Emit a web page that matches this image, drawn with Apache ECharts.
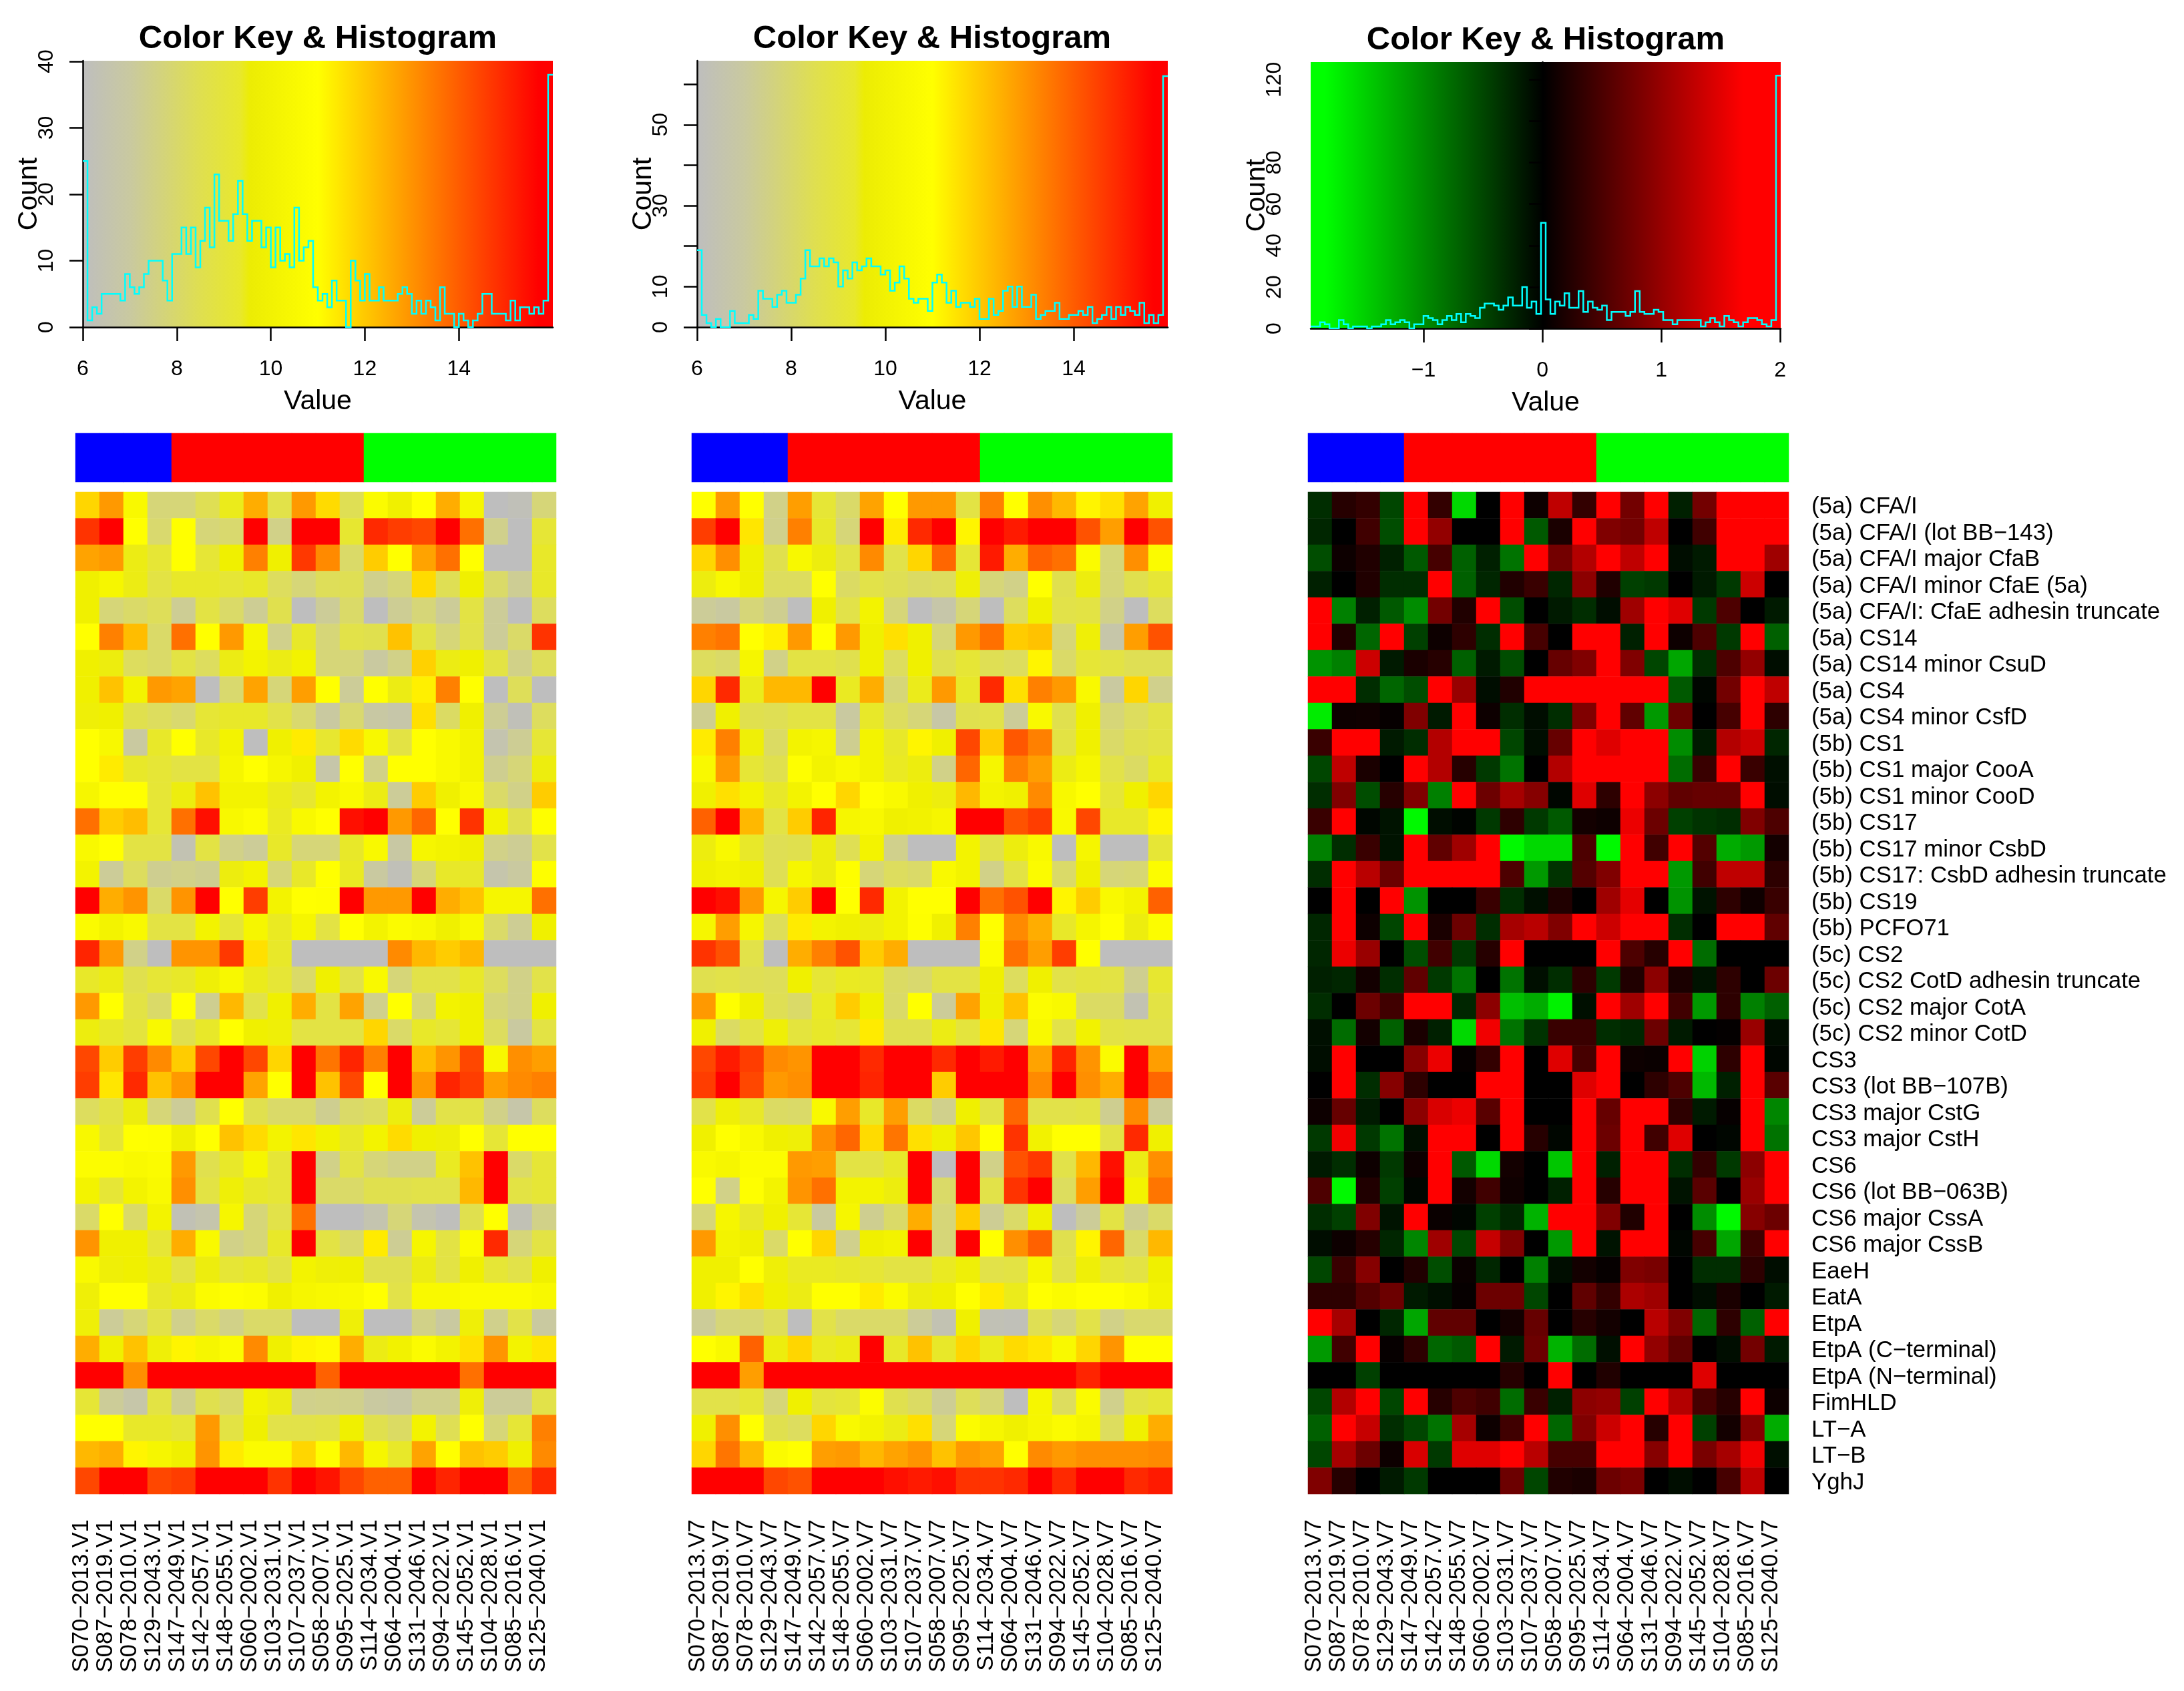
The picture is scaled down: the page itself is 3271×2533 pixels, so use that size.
<!DOCTYPE html>
<html>
<head>
<meta charset="utf-8">
<style>html,body{margin:0;padding:0;background:#fff}#c{width:3271px;height:2533px}</style>
<script src="https://cdn.jsdelivr.net/npm/echarts@6/dist/echarts.min.js"></script>
</head>
<body>
<div id="c"></div>
<script>
const antigens = ["(5a) CFA/I","(5a) CFA/I (lot BB−143)","(5a) CFA/I major CfaB","(5a) CFA/I minor CfaE (5a)","(5a) CFA/I: CfaE adhesin truncate","(5a) CS14","(5a) CS14 minor CsuD","(5a) CS4","(5a) CS4 minor CsfD","(5b) CS1","(5b) CS1 major CooA","(5b) CS1 minor CooD","(5b) CS17","(5b) CS17 minor CsbD","(5b) CS17: CsbD adhesin truncate","(5b) CS19","(5b) PCFO71","(5c) CS2","(5c) CS2 CotD adhesin truncate","(5c) CS2 major CotA","(5c) CS2 minor CotD","CS3","CS3 (lot BB−107B)","CS3 major CstG","CS3 major CstH","CS6","CS6 (lot BB−063B)","CS6 major CssA","CS6 major CssB","EaeH","EatA","EtpA","EtpA (C−terminal)","EtpA (N−terminal)","FimHLD","LT−A","LT−B","YghJ"];
const subjects = ["S070−2013","S087−2019","S078−2010","S129−2043","S147−2049","S142−2057","S148−2055","S060−2002","S103−2031","S107−2037","S058−2007","S095−2025","S114−2034","S064−2004","S131−2046","S094−2022","S145−2052","S104−2028","S085−2016","S125−2040"];
const sampleGroups = ["blue","blue","blue","blue","red","red","red","red","red","red","red","red","green","green","green","green","green","green","green","green"];

const histV1 = [25,1,3,2,5,5,5,5,4,8,6,5,6,8,10,10,10,7,4,11,11,15,11,15,9,13,18,12,23,16,16,13,17,22,17,13,16,16,12,15,9,15,10,11,9,18,10,12,13,6,4,5,3,7,4,4,0,10,7,4,8,4,4,6,4,4,4,5,6,5,2,4,2,4,3,1,6,2,2,0,2,1,0,1,2,5,5,2,2,2,1,4,1,3,3,2,3,2,4,38];
const histV7 = [19,3,1,0,2,0,0,4,1,1,1,3,2,9,7,7,5,8,9,6,6,8,12,19,15,15,17,15,17,16,10,14,12,16,14,15,17,15,15,13,14,9,11,15,12,7,6,7,7,4,11,13,11,6,9,5,6,6,5,7,2,2,7,3,4,9,10,5,10,5,5,8,2,3,4,4,6,2,2,3,3,4,3,5,1,2,3,5,2,5,3,5,4,3,6,1,3,1,3,62];
const histRatio = [1,1,3,2,0,0,4,2,0,1,1,1,0,1,1,2,4,2,3,4,3,0,2,2,6,5,4,2,4,6,4,7,3,7,6,5,10,12,12,11,9,11,15,11,11,20,10,13,7,51,14,7,13,11,17,10,10,18,8,13,10,9,11,4,8,8,8,6,8,18,8,7,7,9,8,4,4,2,4,4,4,4,4,1,3,5,3,1,6,4,3,1,3,5,5,4,2,1,4,122];

const cellsV1 = [
[11.8,13,10.6,8,8,8.7,9.6,12.6,8.9,13,11.7,8.7,10.7,10,11,12.6,10.4,6,6.2,8],
[15,16,11,8.2,11,8,8.2,16,7.6,16,16,9.3,15.2,14.8,14.6,16,13.8,7.5,6,9.2],
[12.8,13,9.7,9.2,11,9.2,10,13.5,10,14.9,13.3,8.3,12,11,12.8,13.8,11,6,6,9.4],
[10,10.4,9.7,9,9.4,9.4,9.2,9.4,8.5,8,8.6,8.7,7.5,8,11.7,8.7,10,8.3,7.3,9.4],
[10,8,8.3,8.6,7.3,9,8.3,7.3,8.8,6,7.2,8.3,6,7.3,8,7.2,9,7.2,6,8.5],
[11,13.5,12.3,8.3,13.8,11,13,10.4,7.5,9.4,8,8.9,8.8,12.2,9,8,8.9,7.2,8.3,15],
[10,9.8,8.5,8.3,9,8.5,9.7,10.2,9.7,10.2,8,8,7,7.6,11.9,9.7,10,9,7.6,8.6],
[10,12.2,10.2,13,12.8,6,8.2,12.8,8,12.9,11,7.2,11,9.7,11.3,13.5,11,6,8.6,6],
[9.9,10,8.8,8.5,8.2,9.2,9.4,9.4,8.9,8.2,7,8.2,6.9,6.7,11.6,8.4,10,7.3,6.2,8.5],
[11,10.5,7,9.4,11,9.4,10.2,6,10,11.4,9.3,11.7,10.5,9,11,10.6,10.2,6.5,7.3,9.2],
[11,11.4,9.4,9.2,9,9,10.4,11,10.4,10,6.7,11,7.6,11,11,10.6,10.2,7.4,8,9.8],
[10.4,11,11,9.2,9.8,12.2,10.2,10.2,9.6,9.3,10.2,10.6,9.7,7.2,12,10,10.6,8.3,7.6,12],
[13.8,12,12.3,9.2,13.8,15.7,10.5,10.8,9.5,10.6,11,15.7,16,13,14,11,15,10.2,8.8,10.9],
[10.6,11,9,9,6.4,9,7.6,7.2,9.4,8,8,9.4,10.6,6.9,10.4,10.2,10,7.6,7.3,8.9],
[10.2,7.2,8.5,7.4,7.6,7.4,9.8,10.2,8,9.4,11,9.5,7,6.2,8,9.4,9.4,6.6,7,10.9],
[16,12.6,13.1,8.3,13.1,16,11,14.8,10.2,11,10.9,16,13,13,16,12.6,12.2,10.4,10.4,13.8],
[10.7,10.2,10.6,9,9,10.2,9.2,10.4,9.5,10.4,9,11,10.2,10.7,10.5,10,10.5,8.3,7.3,10],
[15.3,13,7.6,6,13.1,13.1,14.9,11.6,9.4,6,6,6,6,13.3,12.4,12,12.4,6,6,6],
[9.4,9.7,8.8,9.2,9.4,9.9,10.5,9.6,9.2,8.3,10,8.9,10.6,8,8.9,8.9,9.4,8.5,7.6,8.9],
[13,11,9,8.3,11,7.4,12.4,8.9,10,12.6,9,12.8,7.5,11,8,10.2,10,8,7.6,10],
[9.8,9.4,9.1,10.6,8.8,9.4,11,10,9.9,9,9,9,11.8,8.3,9.4,9.2,10,8.5,7,9],
[14.6,12,14.8,13.3,12,14.6,16,14.6,11.8,16,13.7,15.3,13.5,16,12.3,13.1,14.6,10.5,13.2,12.9],
[14.8,11.5,15.2,12.2,13,16,16,12.8,11,16,12.2,14.6,11,16,13,15.3,14.8,12.9,13.3,13.5],
[8.5,9,9.8,8,7.2,8.8,11,8.8,8.3,8.3,7.4,8.3,8.5,9.8,7.2,8.9,9,7.6,6.7,8.5],
[10.5,9.2,11,10.9,10,11,12.2,11.7,10.2,11.5,10.1,9.4,10.2,11.7,10,9.9,11,9.2,11,11],
[10.8,10.8,10.6,10.7,13,8.8,9.4,10.4,9.2,16,7.6,9,8,7.6,7.6,9.5,12.2,16,8.3,9.2],
[10.2,9.2,10.2,10.6,13.2,9,9.9,9.4,9.2,16,8.3,8.3,8.8,8.8,8.9,8.9,12.4,16,9,9.2],
[8.3,11,8.3,10.2,6.3,6.6,10.4,8,8.9,13.8,6,6,6.5,8,6.5,6.1,8.8,11,6.3,7.6],
[13.1,10,10,9.2,12.6,10.6,7.6,8,9.4,16,9,8.3,11.4,7.3,10.4,9,10.7,15.2,8,9],
[10.6,9.9,10,9.7,9,9.8,9.2,9.4,9,10.2,9.9,10,8.8,8.8,9.7,9,10,9.2,8.9,10],
[9.9,11,11,9.4,9.7,10.7,10.9,10.8,10,10.4,10.5,10.6,11,8.9,10.6,10.6,10.7,10.7,10.7,10.5],
[9.9,7.2,8,8.9,7.5,8.3,7.6,8.3,8.3,6,6,9.9,6,6,7.6,7,9.9,7.5,8.9,7],
[12.6,10,12.2,9.9,11.2,10.4,10.7,13.3,10,11.2,11.1,12.6,9.7,10.1,10.7,10.2,11.6,13.1,10.2,11.5],
[16,16,13.2,16,16,16,16,16,16,16,14.1,16,16,16,16,16,13.8,16,16,16],
[9.2,7.2,6.7,9,7.4,8.8,8.3,10.2,9.7,7.5,7.6,7.5,7,6.8,7.5,7.5,9.9,7.2,7.2,8.9],
[11,11,9.4,9.4,9.2,13,9,10,8.9,8.9,9,10,8.8,8.4,10.2,8.7,11,8,9.2,13.5],
[12.4,12.6,11.2,10.4,10,13.1,11.4,10.7,10.7,11.8,10.9,12.4,10.4,9.4,12.8,11,12.2,12,10,13.3],
[14.6,16,16,14.6,14.8,16,16,16,15,16,15.6,14.6,14.1,14.1,16,15.3,16,16,14,15.2]
];
const cellsV7 = [
[11,13,11,7.6,12.9,9.2,8.3,12.8,11,13,13,9,13.5,11,13.2,12.4,11.2,11.6,12.8,10],
[14.8,16,11.5,7.5,13.5,9.4,8,16,11.4,15.2,16,11.2,16,15.5,16,16,14.4,12.9,16,14.4],
[11.8,13.2,10,8.8,10.5,9.8,9,13.3,8.9,11.8,14,9.2,15.5,12.6,14.1,13.8,10.7,8,13.2,10.7],
[9.8,10.5,10,8.5,8.5,11,8.4,8.9,8.7,8.4,8.5,9.9,8,7.6,11,8.8,9.8,8,8.8,9.2],
[7.2,7,8,7.4,6,10,8.9,10.2,8,6,6.7,8,6,8.5,10,8.9,9,7.6,6,8.5],
[13.5,13.7,11,11.3,13,11,13,10,11.6,10,8,13,13.8,12,12.2,8,9.9,6.7,12.9,14.4],
[8.5,8.3,10.4,7.6,9,9,8.8,10,8.5,10,8.8,9.2,8.7,8.5,11.2,8.3,9.2,9,8.7,8.7],
[11.8,15.2,9.6,12.4,12.4,16,9.5,12.6,8,9.6,13,9.4,15.2,11.6,13.5,13,10.6,7,11.8,7.5],
[7.4,10,8.8,8.7,9,9,7,9.4,8.5,8,6.8,8.8,8.9,7.2,10.6,8.8,10,8,8.5,9],
[11.4,13.5,9.9,8.4,10.2,10.4,7.4,10.2,9.4,11.2,10,14.6,12,14.3,13.5,9,10,8.3,8.8,9],
[10.6,13,9.2,8.8,10.9,10.2,10.6,10.2,9.5,9.8,7.6,14,10.4,13.5,12.9,9.7,10.4,8.9,8.4,9.4],
[10,11.6,10.2,9.4,10.2,11,11.8,10.9,10.6,10,9.8,12.4,10.2,10,13.3,10.5,11,9.2,10,11.8],
[14.1,16,12.4,9,12,15.3,10.4,10.5,10,10.1,10.4,16,16,14.4,14.8,10.6,14.6,9.4,9.4,11.2],
[9.8,10.6,9.4,8.7,8.8,9.8,8.7,10.2,7.5,6,6,10.2,8.9,9.8,10.6,6,10.4,6,6,9.2],
[10,10.2,10,8.7,10.4,9.8,10.9,8,8.5,8.3,10.6,10.2,7.6,9,10.7,8.3,10,8,8.1,10.8],
[16,15.7,13,10.4,12,16,11,15.2,10.2,11,11,16,13.8,14.4,16,11.2,12,10.6,10.2,14.1],
[10.4,12.9,10.4,8.6,11.4,10.2,10,9.8,10.2,10.9,10,13.5,11,13.3,12.6,9.4,10.3,11,9.8,10.8],
[15,14.4,8.9,6,12.6,13.5,14.4,12,12.6,6,6,6,10.8,13.8,12.9,14.8,11,6,6,6],
[8.8,8.9,8.7,8.6,10,9.2,9.5,9.4,8.4,8.2,9,9,10,8.5,10,8.9,9.1,9,7.4,9.3],
[13,10.9,10,8.7,8.3,9.5,12,10,8.3,11,7.2,12.8,10,12.2,10.8,10.6,8.4,8.4,6.4,9],
[10,8.4,9,9.9,9.1,9.4,9.2,11.4,8.8,8.8,9.7,9.1,11.5,8,10.6,8.9,10.1,9,8.9,8.9],
[14.6,15.5,14.8,13.3,13.1,16,16,15.2,16,16,15.2,16,15.5,16,12.8,15.3,13.1,10.7,16,12.9],
[14.8,16,14.6,13,13.2,16,16,15.3,16,16,12,16,16,16,13.3,16,13.2,12.6,16,14],
[8.9,9.9,9.4,8.4,8.3,10.6,12.9,9.4,12.9,8.4,7.5,10,9,14,8.9,8.9,9,7.4,13.3,7.2],
[10,11,10.6,10,9.9,13.2,14,11.7,13.7,11.6,10,12.1,11,15,10.1,11,11,9,15.2,10],
[10.6,10.4,10.8,10.8,13,12.9,9,9,9.4,16,6,16,7.6,14.4,14.9,8.9,12.4,15.7,9.7,13.2],
[11,7.6,10.9,10.2,13.1,13.8,10.2,10.2,9.8,16,8.3,16,8.9,15,16,8.5,12.9,16,10.2,13.7],
[8,10.4,9.4,10,9.2,7,10.4,7.4,8.3,12.6,8,12,7.3,8.3,10,6,7.2,9,7.4,8.3],
[13,10.2,10,8.3,11,11.8,7.5,10,10.2,16,8,16,11,13.2,14.1,8.8,11.2,14,8.3,12.4],
[10,10,11,9.9,9.5,9.5,9.4,9.2,9,9,9.5,9.9,8.9,9,10.4,8.9,9.9,9.2,9,10],
[10,11.2,11.6,10,9.7,11,11,11.4,10.7,9.8,10,11,11.4,9.6,11,10.7,11,11,10.7,10.2],
[7.2,8,8.1,8.6,6,8.9,8.3,8.3,8.3,7.2,6.4,10,6.3,6.2,8.7,8,8.9,7.6,8.2,8.2],
[11,10.6,14.1,9.8,11.8,9.5,9.7,16,9.4,12.2,9.4,11.8,9.6,11.7,11.5,10.6,11.8,13.1,11,11],
[16,16,12.9,16,16,16,16,16,16,16,16,16,16,16,16,16,15.3,16,16,16],
[8.9,8.9,9.2,8,10,9.1,9.2,10.8,8.8,8.4,7.3,8.6,8,6,10.4,8.5,10.7,7.5,9,9.2],
[10,13.2,11,8.8,8.5,11.8,10.6,10.2,9.7,11.6,8,10.8,10.4,10,10.4,10.7,10.4,8.5,10,12.6],
[11.8,13.7,12.4,10.7,11,12.9,13,12.4,12.8,13.1,12.2,13,12.8,11,13.3,13,13.2,13.2,13.2,13.3],
[16,16,16,14.6,14.4,16,16,16,15.7,15.5,15.7,15,15,15.2,16,15.2,16,16,15.2,15.5]
];
const cellsRatio = [
[-0.35,0.3,0.4,-0.55,2,0.4,-1.7,0,2,0.1,1.5,0.4,2,0.9,2,-0.25,0.9,2,2,2],
[-0.3,0,0.5,-0.6,2,1.15,0,0,2,-0.7,0.2,2,1,0.9,1.5,0,0.5,2,2,2],
[-0.6,0.1,0.25,-0.25,-0.7,0.55,-0.75,-0.25,-0.9,2,0.9,1.4,2,1.5,2,-0.1,-0.2,2,2,1.25],
[-0.25,0,0.25,-0.35,-0.35,2,-0.75,-0.3,0.25,0.45,-0.3,1.1,0.25,-0.5,-0.45,0,-0.2,-0.45,1.6,0],
[2,-1,-0.25,-0.7,-1.1,0.9,0.25,2,-0.6,0,-0.2,-0.35,-0.1,1.25,2,1.75,-0.45,0.6,0,-0.2],
[2,0.25,-0.8,2,-0.5,0.1,0.35,-0.35,2,0.55,0,2,2,-0.25,2,0.1,0.6,-0.45,2,-0.75],
[-1.15,-1,1.6,-0.2,0.2,0.3,-0.75,-0.2,-0.6,0,0.8,1,2,1,-0.55,-1.3,-0.35,0.6,1.15,-0.1],
[2,2,-0.35,-0.8,-0.6,2,1.2,-0.1,0.25,2,2,2,2,2,2,-0.7,-0.05,0.9,2,1.5],
[-1.85,0.1,0.12,0.05,1,-0.2,2,0.1,-0.35,-0.1,-0.35,1,2,0.75,-1.2,0.85,0,0.55,2,0.35],
[0.45,2,2,-0.2,-0.35,1.4,2,2,-0.55,-0.1,0.8,2,1.75,2,2,-1.1,-0.2,1.4,1.6,-0.3],
[-0.55,1.5,0.2,0,2,1.4,0.3,-0.45,-0.9,0,1.4,2,2,2,2,-0.85,0.45,2,0.45,-0.12],
[-0.35,1,-0.6,0.3,1,-1,2,0.85,1.3,1.05,-0.05,1.75,0.35,2,1.1,0.75,0.8,0.8,2,-0.1],
[0.45,2,-0.05,-0.15,-1.95,-0.1,-0.03,-0.45,0.35,-0.45,-0.7,0.15,0.1,1.85,0.85,-0.5,-0.4,-0.35,1,0.6],
[-1,-0.35,0.45,-0.15,2,0.75,1.25,2,-1.95,-1.7,-1.7,0.6,-1.95,2,0.5,2,0.65,-1.35,-1.2,0.15],
[-0.35,2,1.45,0.85,2,2,2,2,0.6,-1.2,-0.4,0.65,1,2,2,-1.2,0.5,1.5,1.5,0.35],
[0,2,0,2,-1.15,0,0,0.45,-0.35,-0.12,0.25,0,1.25,1.8,0,-1.15,-0.15,0.35,0.12,0.45],
[-0.3,2,0.1,-0.55,2,0.2,0.85,-0.35,1.3,1.45,1,2,1.6,2,2,-0.35,0,2,2,0.75],
[-0.3,1.85,1.2,0,-0.6,0.5,-0.45,0.3,2,0,0,0,2,0.6,0.3,2,-0.85,0,0,0],
[-0.25,-0.3,0.15,-0.35,0.75,-0.45,-0.9,0,-0.9,-0.12,-0.35,0.35,-0.45,0.25,1.1,0.2,-0.15,0.35,0,0.85],
[-0.35,0,0.85,0.5,2,2,-0.3,1.1,-1.5,-1.35,-1.9,-0.12,2,1.25,2,0.5,-1.2,0.35,-1,-0.75],
[-0.12,-0.85,0.15,-0.75,0.2,-0.25,-1.7,1.9,-0.9,-0.4,0.45,0.45,-0.35,-0.3,0.85,-0.2,0,0.03,1.2,-0.1],
[-0.1,2,0,0,1.05,1.85,0.05,0.4,2,0,1.75,0.55,2,0.1,0.08,2,-1.65,0.35,2,-0.05],
[0,2,-0.35,1.05,0.35,0,0,2,2,0,0,1.75,2,0,0.35,0.6,-1.45,-0.25,2,0.7],
[0.1,0.8,-0.2,0,1.1,1.7,1.85,0.7,2,0,0,2,0.8,2,2,0.35,-0.2,0.05,2,-1.05],
[-0.45,1.9,-0.45,-0.9,-0.12,2,2,0,2,0.3,-0.05,2,0.85,2,0.5,1.75,0,-0.05,2,-0.9],
[-0.2,-0.35,0.1,-0.45,0.1,2,-0.7,-1.7,0.15,0,-1.55,2,-0.25,2,2,-0.35,0.4,-0.45,1.1,2],
[0.6,-1.95,0.25,-0.5,-0.05,2,0.15,0.5,0.12,0,-0.25,2,0.3,2,2,-0.15,0.7,0,1.2,2],
[-0.35,-0.5,1,-0.15,2,0.08,-0.05,-0.5,-0.3,-1.4,2,2,1,0.25,2,0,-1.1,-1.95,1.05,0.85],
[-0.1,0.1,0.3,-0.3,-1.05,1.25,-0.55,1.55,1,0,-1.2,2,-0.15,2,2,-0.05,0.55,-1.3,0.5,2],
[-0.55,0.45,1.05,0,0.25,-0.6,0.08,-0.3,0,-1,-0.1,0.15,0.05,1,0.95,0,-0.35,-0.35,0.35,-0.1],
[0.35,0.35,0.65,0.85,-0.2,-0.12,0.05,0.85,0.85,-0.55,0,0.75,0.4,1.35,1.25,0,-0.1,0.2,0,-0.2],
[2,1.3,0,-0.3,-1.3,0.75,0.75,0,0.15,0.8,0,0.3,0.15,0,1.45,1,-0.8,0.35,-0.75,2],
[-1.2,0.5,2,0.05,0.35,-0.8,-0.7,2,-0.2,0.85,-1.4,-0.85,-0.12,2,1.15,0.75,0,-0.1,0.9,-0.2],
[0,0,-0.5,0,0,0,0,0,0.3,0,2,0,0.25,0,0,0,1.75,0,0,0],
[-0.55,1.4,2,-0.55,2,0.3,0.6,0.5,-0.85,0.45,-0.25,1.1,1.15,-0.5,2,1.4,0.55,0.3,2,0.1],
[-0.75,2,1.55,-0.35,-0.55,-0.9,1.3,0.1,0.5,2,-0.8,1,1.6,2,0.3,2,-0.5,0.15,1.05,-1.35],
[-0.55,1.3,0.85,0.1,1.7,-0.45,1.75,1.75,2,1.45,0.55,0.55,2,2,1.05,2,0.95,1.3,1.9,-0.12],
[1,0.3,0,-0.2,-0.45,0,0,0,0.85,-0.55,0.25,0.2,0.85,0.95,0,-0.1,0,0.55,1.5,0]
];

const FONT = '"Liberation Sans", Arial, sans-serif';
const expressionPalette = ['#BEBEBE','#C9C9A0','#D6D678','#E3E344','#F0F000','#FFFF00','#FFCC00','#FF9900','#FF6600','#FF3300','#FF0000'];
const expressionKey = [[0,'#BEBEBE'],[0.1,'#C9C9A0'],[0.25,'#DFDF50'],[0.335,'#E8E82C'],[0.355,'#ECEC04'],[0.5,'#FFFF00'],[0.97,'#FF0000'],[1,'#FF0000']];
const panels = [
  {suffix:'.V1', cells:cellsV1, hist:histV1, heatMin:6, heatMax:16, histMin:6, histMax:16, yMax:40.1,
   palette:expressionPalette, keyStops:expressionKey,
   xTicks:[6,8,10,12,14], yTicks:[0,10,20,30,40], yLabels:[0,10,20,30,40],
   hx:124, hw:704, hy:91, hh:399, mx:113, title:[471,29]},
  {suffix:'.V7', cells:cellsV7, hist:histV7, heatMin:6, heatMax:16, histMin:6, histMax:16, yMax:65.8,
   palette:expressionPalette, keyStops:expressionKey,
   xTicks:[6,8,10,12,14], yTicks:[0,10,20,30,40,50,60], yLabels:[0,10,30,50],
   hx:1044, hw:705, hy:91, hh:399, mx:1036, title:[1391,29]},
  {suffix:'.V7', cells:cellsRatio, hist:histRatio, heatMin:-2, heatMax:2, histMin:-1.95, histMax:2.005, yMax:128.5,
   palette:['#00FF00','#000000','#FF0000'], keyStops:[[0,'#00FF00'],[0.03,'#00FF00'],[0.495,'#000000'],[0.92,'#FF0000'],[1,'#FF0000']],
   xTicks:[-1,0,1,2], yTicks:[0,20,40,60,80,100,120], yLabels:[0,20,40,60,80,120],
   hx:1963, hw:704, hy:93, hh:399, mx:1959, title:[2310,31], showRowNames:true}
];

const groupColors = {blue:'#0000FF', red:'#FF0000', green:'#00FF00'};
const MAP_W = 720, HEAT_TOP = 737, HEAT_H = 1501, BAR_TOP = 649, BAR_H = 73;

const option = {animation:false, backgroundColor:'#fff', textStyle:{fontFamily:FONT},
  title:[], grid:[], xAxis:[], yAxis:[], series:[], visualMap:[]};

panels.forEach(function(p){
  option.title.push({text:'Color Key & Histogram', left:p.title[0], top:p.title[1], textAlign:'center',
    textStyle:{fontFamily:FONT,fontSize:49,fontWeight:'bold',color:'#000'}});

  // histogram + colour key
  let gi = option.grid.length;
  const keyFill = new echarts.graphic.LinearGradient(0,0,1,0,
    p.keyStops.map(function(s){return {offset:s[0],color:s[1]};}));
  option.grid.push({left:p.hx, top:p.hy, width:p.hw, height:p.hh, show:true, backgroundColor:keyFill, borderWidth:0});
  const axisStroke = {color:'#000',width:2.5};
  option.xAxis.push({type:'value', gridIndex:gi, min:p.histMin, max:p.histMax, splitLine:{show:false},
    axisLine:{show:true,onZero:false,lineStyle:axisStroke},
    axisTick:{show:true,length:21,lineStyle:axisStroke,customValues:p.xTicks},
    axisLabel:{margin:47,fontSize:32,fontFamily:FONT,color:'#000',customValues:p.xTicks,hideOverlap:false,
      formatter:function(v){return String(v).replace('-','−');}},
    name:'Value', nameLocation:'middle', nameGap:91, nameMoveOverlap:false,
    nameTextStyle:{fontFamily:FONT,fontSize:41,color:'#000'}});
  option.yAxis.push({type:'value', gridIndex:gi, min:0, max:p.yMax, splitLine:{show:false},
    axisLine:{show:true,lineStyle:axisStroke},
    axisTick:{show:true,length:20,lineStyle:axisStroke,customValues:p.yTicks},
    axisLabel:{rotate:90,margin:38,fontSize:32,fontFamily:FONT,color:'#000',customValues:p.yLabels,hideOverlap:false},
    name:'Count', nameLocation:'middle', nameGap:60, nameRotate:90, nameMoveOverlap:false,
    nameTextStyle:{fontFamily:FONT,fontSize:41,color:'#000'}});
  const bw = (p.histMax-p.histMin)/p.hist.length, steps = [];
  p.hist.forEach(function(c,i){ steps.push([p.histMin+i*bw,c],[p.histMin+(i+1)*bw,c]); });
  option.series.push({type:'line', xAxisIndex:gi, yAxisIndex:gi, data:steps, symbol:'none', silent:true,
    lineStyle:{color:'#00FFFF',width:2.5,join:'miter'}, z:5});

  // sample group colour bar
  gi = option.grid.length;
  option.grid.push({left:p.mx, top:BAR_TOP, width:MAP_W, height:BAR_H});
  option.xAxis.push({type:'category', gridIndex:gi, data:subjects, show:false});
  option.yAxis.push({type:'category', gridIndex:gi, data:['group'], show:false});
  option.series.push({type:'heatmap', xAxisIndex:gi, yAxisIndex:gi, progressive:0,
    data:sampleGroups.map(function(g,i){return {value:[i,0,1], itemStyle:{color:groupColors[g]}};})});

  // main heat map
  gi = option.grid.length;
  option.grid.push({left:p.mx, top:HEAT_TOP, width:MAP_W, height:HEAT_H});
  option.xAxis.push({type:'category', gridIndex:gi, data:subjects.map(function(s){return s+p.suffix;}),
    axisLine:{show:false}, axisTick:{show:false}, splitLine:{show:false},
    axisLabel:{interval:0,rotate:90,margin:38,fontSize:34.5,fontFamily:FONT,color:'#000',
      verticalAlign:'bottom',lineHeight:18,hideOverlap:false}});
  option.yAxis.push({type:'category', gridIndex:gi, data:antigens, inverse:true,
    position:p.showRowNames?'right':'left', splitLine:{show:false},
    axisLine:{show:false}, axisTick:{show:false},
    axisLabel:{show:!!p.showRowNames,interval:0,margin:34,fontSize:34.8,fontFamily:FONT,color:'#000',align:'left',
      verticalAlign:'top',lineHeight:6,hideOverlap:false}});
  const cells = [];
  p.cells.forEach(function(r,ri){ r.forEach(function(v,ci){ cells.push([ci,ri,v]); }); });
  const si = option.series.length;
  option.series.push({type:'heatmap', xAxisIndex:gi, yAxisIndex:gi, data:cells, progressive:0, silent:true});
  option.visualMap.push({show:false, type:'continuous', seriesIndex:si, dimension:2,
    min:p.heatMin, max:p.heatMax, inRange:{color:p.palette}});
});

const chart = echarts.init(document.getElementById('c'), null, {renderer:'canvas', width:3271, height:2533});
chart.setOption(option);
</script>
</body>
</html>
